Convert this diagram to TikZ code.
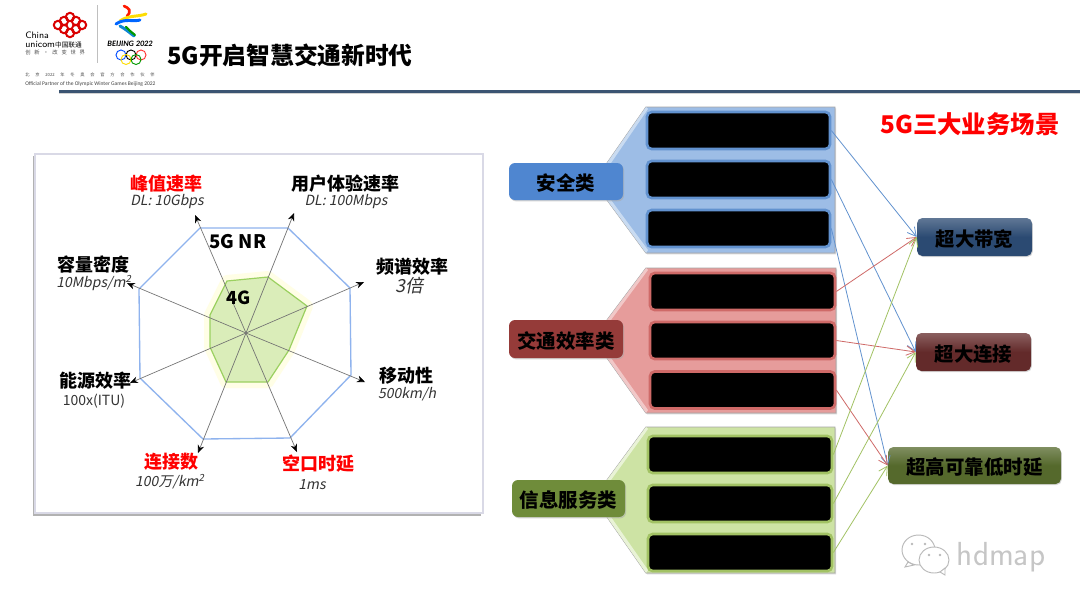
\documentclass[tikz,border=0pt]{standalone}
\usepackage{fontspec}
\setmainfont{Carlito}
\newfontfamily\cjk{Noto Sans CJK SC}
\newfontfamily\cjkit[FakeSlant=0.2]{Noto Sans CJK SC}
\usetikzlibrary{arrows.meta,shadows}
\definecolor{safeblue}{HTML}{4F86D0}
\definecolor{safepanel}{HTML}{9DBDE6}
\definecolor{safeedge}{HTML}{6292CF}
\definecolor{trafficred}{HTML}{953B39}
\definecolor{trafficpanel}{HTML}{E69C9B}
\definecolor{trafficedge}{HTML}{CF6A68}
\definecolor{infogreen}{HTML}{6F8C3A}
\definecolor{infopanel}{HTML}{CDE3A4}
\definecolor{infoedge}{HTML}{A2C264}
\definecolor{radarblue}{HTML}{8FB3EE}
\definecolor{radargreen}{HTML}{9BD060}
\definecolor{radarfill}{HTML}{DAEDB9}
\definecolor{rulecol}{HTML}{3B5472}
\definecolor{bandblue}{HTML}{2B4A72}
\definecolor{connred}{HTML}{632A2A}
\definecolor{urllcgreen}{HTML}{55692C}
\def\cngap{\hspace{4.3pt}}
\def\sloggap{\hspace{2.8pt}}
\tikzset{
	px/.style={x=0.75pt,y=-0.75pt},
	cjkbold/.style={font=\cjk\bfseries\fontsize{#1}{#1}\selectfont},
	panel/.style={fill=#1,draw=gray!70,line width=0.7pt,drop shadow={shadow xshift=0.8pt,shadow yshift=-1pt,fill=gray!60}},
	blackbox/.style={fill=black,draw=#1,line width=2pt,rounded corners=3.5pt,inner sep=0pt},
	catbox/.style={fill=#1,rounded corners=4.5pt,inner sep=0pt,cjkbold=14.6pt,text height=13.5pt,text depth=0pt,drop shadow={shadow xshift=0.8pt,shadow yshift=-1pt,fill=gray!70}},
	scenebox/.style={top color=#1!75,bottom color=#1,middle color=#1,rounded corners=4pt,inner sep=0pt,cjkbold=14.6pt,text height=13.5pt,text depth=0pt,drop shadow={shadow xshift=0.6pt,shadow yshift=-0.8pt,fill=gray!60}},
	headlabel/.style={cjkbold=13.5pt,inner sep=0pt,yshift=-0.7pt},
	headred/.style={headlabel,text=red},
	sublabel/.style={font=\cjkit\fontsize{10.5pt}{10.5pt}\selectfont,text=black!80,inner sep=0pt},
	radararrow/.style={draw=black!55,line width=0.5pt,-{Stealth[length=6pt,width=5pt,black]}},
	link/.style={draw=#1,line width=0.6pt,-{Straight Barb[length=6.5pt,width=7pt]}},
}
\begin{document}
\begin{tikzpicture}[px]
	\useasboundingbox (0,0) rectangle (1080,607);
	\fill[white] (0,0) rectangle (1080,607);

	% header logos
	\begin{scope}[red!85!black,line width=1.5pt]
		\foreach \x/\y in {58/25,82/25,70/17,70/33,64/21,76/21,64/29,76/29} {
			\draw (\x,\y) circle (4.2);
		}
	\end{scope}
	\node[font=\sffamily\fontsize{7pt}{7pt}\selectfont,anchor=west,inner sep=0pt] (china) at (25,35.5) {China};
	\node[font=\sffamily\fontsize{7pt}{7pt}\selectfont,anchor=west,inner sep=0pt] (unicom) at (25,44.5) {unicom\cjk\fontsize{5pt}{5pt}\selectfont 中国联通};
	\node[font=\cjk\fontsize{4pt}{4pt}\selectfont,text=black!70,anchor=west,inner sep=0pt] (slogan) at (25,52.5) {创\sloggap 新\sloggap ·\sloggap 改\sloggap 变\sloggap 世\sloggap 界};
	\draw[gray!50,line width=0.6pt] (97,5) -- (97,63);
	% emblem strokes
	\draw[line width=2pt,red!80!orange,line cap=round] (124,6) .. controls (129,8) and (132,11) .. (127,16);
	\draw[line width=2.2pt,yellow!80!orange,line cap=round] (120,21) .. controls (128,15) and (138,17) .. (146,14);
	\draw[line width=2.2pt,blue!60!cyan,line cap=round] (116,24) .. controls (124,18) and (134,22) .. (140,20);
	\draw[line width=2.2pt,cyan!70!blue,line cap=round] (120,26) .. controls (127,30) and (130,33) .. (134,36);
	\draw[line width=1.6pt,green!60!black,line cap=round] (126,27) .. controls (128,29) and (131,32) .. (135,35);
	\node[font=\itshape\bfseries\fontsize{6.2pt}{6pt}\selectfont,inner sep=0pt] (beijing) at (130,44) {BEIJING 2022};
	\foreach \x/\y/\col in {121/55/blue!70!cyan,131/55/black,141/55/red!80,126/59.5/yellow!80!orange,136/59.5/green!60!black} {
		\draw[\col,line width=0.7pt] (\x,\y) circle (5);
	}
	\node[font=\cjk\fontsize{3.2pt}{3pt}\selectfont,text=black!70,anchor=west,inner sep=0pt] (partnercn) at (25,75) {北\cngap 京\cngap 2022\cngap 年\cngap 冬\cngap 奥\cngap 会\cngap 官\cngap 方\cngap 合\cngap 作\cngap 伙\cngap 伴};
	\node[font=\fontsize{4.15pt}{4pt}\selectfont,text=black!75,anchor=west,inner sep=0pt] (partneren) at (25,84) {Official Partner of the Olympic Winter Games Beijing 2022};
	\node[cjkbold=17.8pt,anchor=west,inner sep=0pt] (title) at (167,55.5) {5G开启智慧交通新时代};
	\fill[rulecol] (59,89.5) rectangle (1080,92.5);
	\fill[gray!35] (59,92.5) rectangle (1080,94);

	% radar card
	\fill[gray!60] (33,156) rectangle (481,516);
	\filldraw[fill=white,draw=blue!20!gray!25,line width=0.8pt] (35,154) rectangle (483,513);

	% 4G and 5G outlines
	\def\greenpoly{(268,277) -- (307,306) -- (289,350) -- (268,382) -- (226,382) -- (210,347) -- (210,315) -- (227,281) -- cycle}
	\draw[yellow!10,line width=9pt,line join=round] \greenpoly;
	\filldraw[fill=radarfill,draw=radargreen,line width=0.9pt] \greenpoly;
	\draw[radarblue,line width=1pt] (200,228) -- (288,228) -- (350,288) -- (351,375) -- (290,438) -- (203,439) -- (140,378) -- (139,289) -- cycle;

	% radar axes
	\coordinate (hub) at (246,333);
	\foreach \name/\x/\y in {peak/195/215,user/294/213,spectrum/364/282,mobility/365/382,latency/297/452,links/198/453,energy/130/383,density/127/283} {
		\coordinate (\name) at (\x,\y);
		\draw[radararrow] (hub) -- (\name);
	}

	% radar labels
	\node[headred] (peakhead) at (166,183) {峰值速率};
	\node[sublabel] (peaksub) at (167,202) {DL: 10Gbps};
	\node[headlabel] (userhead) at (345.5,183) {用户体验速率};
	\node[sublabel] (usersub) at (346,202) {DL: 100Mbps};
	\node[headlabel] (spectrumhead) at (412,266) {频谱效率};
	\node[sublabel,font=\cjkit\fontsize{13.5pt}{13.5pt}\selectfont] (spectrumsub) at (409,286) {3倍};
	\node[headlabel] (mobilityhead) at (406,375) {移动性};
	\node[sublabel] (mobilitysub) at (407,394) {500km/h};
	\node[headred] (latencyhead) at (318,463) {空口时延};
	\node[sublabel] (latencysub) at (312,485) {1ms};
	\node[headred] (linkshead) at (171,461) {连接数};
	\node[sublabel] (linkssub) at (170,482) {100万/km\textsuperscript{2}};
	\node[headlabel] (energyhead) at (95,380) {能源效率};
	\node[font=\cjk\fontsize{10.5pt}{10.5pt}\selectfont,text=black!80,inner sep=0pt] (energysub) at (94,401) {100x(ITU)};
	\node[headlabel] (densityhead) at (93,264) {容量密度};
	\node[sublabel] (densitysub) at (94,283) {10Mbps/m\textsuperscript{2}};
	\node[font=\cjk\bfseries\fontsize{14pt}{14pt}\selectfont,inner sep=0pt] (nr) at (238,242) {5G NR};
	\node[font=\cjk\bfseries\fontsize{13.5pt}{13.5pt}\selectfont,inner sep=0pt] (lte) at (239,298) {4G};

	% category panels
	\draw[panel=safepanel] (646,107) -- (835,107) -- (835,253) -- (646,253) -- (607,200) -- (607,163) -- cycle;
	\draw[panel=trafficpanel] (646,268) -- (836,268) -- (836,413) -- (646,413) -- (607,358) -- (607,320) -- cycle;
	\draw[panel=infopanel] (646,427) -- (835,427) -- (835,573) -- (646,573) -- (607,517) -- (607,480) -- cycle;
	\fill[safepanel!55!white] (646,107) -- (648,109) -- (611,163) -- (607,163) -- cycle;
	\fill[safepanel!55!white] (646,253) -- (648,250) -- (611,200) -- (607,200) -- cycle;
	\fill[trafficpanel!55!white] (646,268) -- (648,270) -- (611,320) -- (607,320) -- cycle;
	\fill[trafficpanel!55!white] (646,413) -- (648,410) -- (611,358) -- (607,358) -- cycle;
	\fill[infopanel!45!white] (646,427) -- (648,429) -- (611,480) -- (607,480) -- cycle;
	\fill[infopanel!45!white] (646,573) -- (648,570) -- (611,517) -- (607,517) -- cycle;

	% masked boxes
	\foreach \name/\x/\y/\w/\col in {safea/738.5/130.5/183/safeedge,safeb/738.5/179.5/183/safeedge,safec/738.5/228.5/183/safeedge,
		traffica/742.5/291.5/185/trafficedge,trafficb/742.5/340.5/185/trafficedge,trafficc/742.5/390/185/trafficedge,
		infoa/740/454.5/184/infoedge,infob/740/503.5/184/infoedge,infoc/740/552.5/184/infoedge} {
		\node[blackbox=\col,minimum width=\w*0.75pt,minimum height=37*0.75pt] (\name) at (\x,\y) {};
	}

	% category and scene boxes
	\node[catbox=safeblue,minimum width=114*0.75pt,minimum height=37*0.75pt] (safe) at (566,181.5) {安全类};
	\node[catbox=trafficred,minimum width=114*0.75pt,minimum height=38*0.75pt] (traffic) at (566,339) {交通效率类};
	\node[catbox=infogreen,minimum width=113*0.75pt,minimum height=37*0.75pt] (info) at (568.5,498.5) {信息服务类};
	\node[scenebox=bandblue,minimum width=115*0.75pt,minimum height=38*0.75pt] (band) at (974.5,237) {超大带宽};
	\node[scenebox=connred,minimum width=115*0.75pt,minimum height=38*0.75pt] (conn) at (973.5,352) {超大连接};
	\node[scenebox=urllcgreen,minimum width=173*0.75pt,minimum height=37*0.75pt] (urllc) at (974.5,465.5) {超高可靠低时延};
	\node[cjkbold=18.3pt,text=red,inner sep=0pt] (scenes) at (970,124.5) {5G三大业务场景};

	% links
	\foreach \from/\to/\col in {safea/band/safeedge,safeb/conn/safeedge,safec/urllc/safeedge,
		traffica/band/trafficedge,trafficb/conn/trafficedge,trafficc/urllc/trafficedge,
		infoa/band/infoedge,infob/conn/infoedge,infoc/urllc/infoedge} {
		\draw[link=\col] (\from.east) -- (\to.west);
	}

	% watermark
	\begin{scope}[gray!55,line width=0.7pt]
		\filldraw[fill=white] (918.5,550) ellipse (16.5 and 15);
		\filldraw[fill=white] (908,562) -- (905,567) -- (914,565) -- cycle;
		\filldraw[fill=white] (934,560) ellipse (15 and 13);
		\filldraw[fill=white] (940,572) -- (945,575) -- (945,568) -- cycle;
		\foreach \x/\y in {912/544,925/544,929/555,940/555} {
			\fill (\x,\y) circle (1.3);
		}
	\end{scope}
	\node[font=\sffamily\fontsize{25pt}{25pt}\selectfont,text=gray!45,inner sep=0pt] (mark) at (1001,557) {hdmap};
\end{tikzpicture}
\end{document}
